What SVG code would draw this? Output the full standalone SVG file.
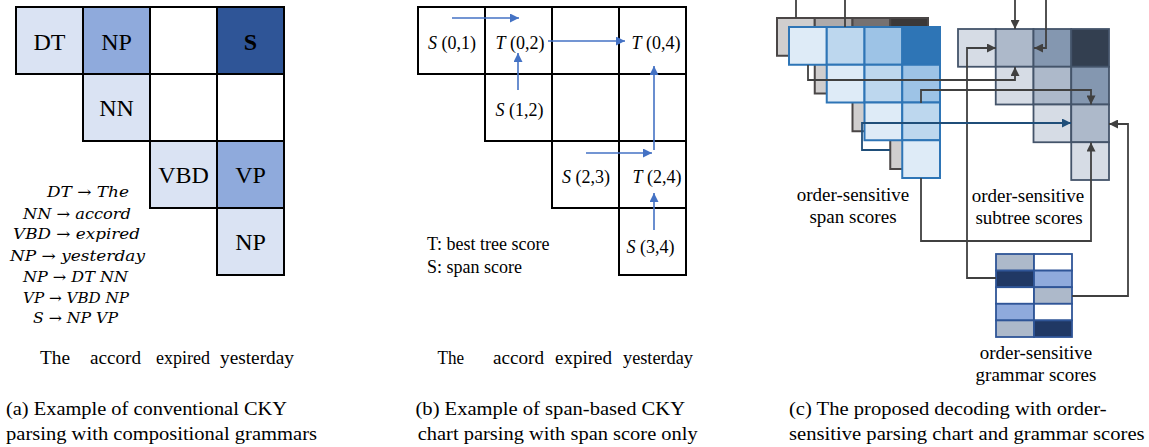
<svg xmlns="http://www.w3.org/2000/svg" width="1149" height="447" viewBox="0 0 1149 447">
<style>
 .cell { stroke:#000; stroke-width:2; }
 .gcell { stroke:#4a4646; stroke-width:2; }
 .bcell { stroke:#2e75b6; stroke-width:2; }
 .scell { stroke:#44546a; stroke-width:1.8; }
 .rcell { stroke:#2f5597; stroke-width:1.8; }
 .bl { fill:none; stroke:#4472c4; stroke-width:1.6; marker-end:url(#ab); }
 .gl { fill:none; stroke:#404040; stroke-width:1.8; }
 .ga { marker-end:url(#ag); }
 .dl { fill:none; stroke:#1f4e79; stroke-width:1.8; marker-end:url(#ad); }
</style>
<defs>
 <marker id="ab" viewBox="0 0 10 10" refX="10" refY="5" markerUnits="userSpaceOnUse" markerWidth="10" markerHeight="9" orient="auto"><path d="M0,0 L10,5 L0,10 z" fill="#4472c4"/></marker>
 <marker id="ag" viewBox="0 0 10 10" refX="10" refY="5" markerUnits="userSpaceOnUse" markerWidth="10" markerHeight="9" orient="auto"><path d="M0,0 L10,5 L0,10 z" fill="#404040"/></marker>
 <marker id="ad" viewBox="0 0 10 10" refX="10" refY="5" markerUnits="userSpaceOnUse" markerWidth="10" markerHeight="9" orient="auto"><path d="M0,0 L10,5 L0,10 z" fill="#1f4e79"/></marker>
</defs>
<rect width="1149" height="447" fill="#fff"/>

<!-- Panel (a) -->
<g id="a-dt"><rect class="cell" x="16" y="7" width="67" height="67" fill="#dae3f3"/><text font-family="'Liberation Serif', serif" font-size="24" text-anchor="middle" x="49.5" y="50">DT</text></g>
<g id="a-np1"><rect class="cell" x="83" y="7" width="67" height="67" fill="#8faadc"/><text font-family="'Liberation Serif', serif" font-size="24" text-anchor="middle" x="116.5" y="50">NP</text></g>
<g id="a-02"><rect class="cell" x="150" y="7" width="67" height="67" fill="#fff"/></g>
<g id="a-s"><rect class="cell" x="217" y="7" width="67" height="67" fill="#2f5597"/><text font-family="'Liberation Serif', serif" font-size="24" text-anchor="middle" x="250.5" y="50" font-weight="bold">S</text></g>
<g id="a-nn"><rect class="cell" x="83" y="74" width="67" height="67" fill="#dae3f3"/><text font-family="'Liberation Serif', serif" font-size="24" text-anchor="middle" x="116.5" y="116">NN</text></g>
<g id="a-12"><rect class="cell" x="150" y="74" width="67" height="67" fill="#fff"/></g>
<g id="a-13"><rect class="cell" x="217" y="74" width="67" height="67" fill="#fff"/></g>
<g id="a-vbd"><rect class="cell" x="150" y="141" width="67" height="67" fill="#dae3f3"/><text font-family="'Liberation Serif', serif" font-size="24" text-anchor="middle" x="183.5" y="183">VBD</text></g>
<g id="a-vp"><rect class="cell" x="217" y="141" width="67" height="67" fill="#8faadc"/><text font-family="'Liberation Serif', serif" font-size="24" text-anchor="middle" x="250.5" y="183">VP</text></g>
<g id="a-np2"><rect class="cell" x="217" y="208" width="67" height="67" fill="#dae3f3"/><text font-family="'Liberation Serif', serif" font-size="24" text-anchor="middle" x="250.5" y="250">NP</text></g>

<g id="a-rules" font-family="'DejaVu Serif', serif" font-style="italic" font-size="15">
 <text x="47" y="197" textLength="82" lengthAdjust="spacingAndGlyphs">DT → The</text>
 <text x="23" y="219" textLength="108" lengthAdjust="spacingAndGlyphs">NN → accord</text>
 <text x="13" y="239" textLength="127" lengthAdjust="spacingAndGlyphs">VBD → expired</text>
 <text x="10" y="261" textLength="135" lengthAdjust="spacingAndGlyphs">NP → yesterday</text>
 <text x="23" y="282" textLength="105" lengthAdjust="spacingAndGlyphs">NP → DT NN</text>
 <text x="23" y="303" textLength="106" lengthAdjust="spacingAndGlyphs">VP → VBD NP</text>
 <text x="33" y="323" textLength="85" lengthAdjust="spacingAndGlyphs">S → NP VP</text>
</g>
<g id="a-words" font-family="'Liberation Serif', serif" font-size="18">
 <text x="40" y="364" textLength="30" lengthAdjust="spacingAndGlyphs">The</text>
 <text x="90" y="364" textLength="51" lengthAdjust="spacingAndGlyphs">accord</text>
 <text x="156" y="364" textLength="54" lengthAdjust="spacingAndGlyphs">expired</text>
 <text x="220" y="364" textLength="74" lengthAdjust="spacingAndGlyphs">yesterday</text>
</g>
<g id="a-caption" font-family="'Liberation Serif', serif" font-size="19">
 <text x="6" y="415" textLength="281" lengthAdjust="spacingAndGlyphs">(a) Example of conventional CKY</text>
 <text x="6" y="440" textLength="311" lengthAdjust="spacingAndGlyphs">parsing with compositional grammars</text>
</g>

<!-- Panel (b) -->
<g id="b-01"><rect class="cell" x="418" y="7" width="67" height="67" fill="#fff"/><text font-family="'Liberation Serif', serif" font-size="18" text-anchor="middle" x="452" y="49"><tspan font-style="italic">S</tspan> (0,1)</text></g>
<g id="b-02"><rect class="cell" x="485" y="7" width="67" height="67" fill="#fff"/><text font-family="'Liberation Serif', serif" font-size="18" text-anchor="middle" x="520" y="49"><tspan font-style="italic">T</tspan> (0,2)</text></g>
<g id="b-03"><rect class="cell" x="552" y="7" width="67" height="67" fill="#fff"/></g>
<g id="b-04"><rect class="cell" x="619" y="7" width="67" height="67" fill="#fff"/><text font-family="'Liberation Serif', serif" font-size="18" text-anchor="middle" x="656" y="49"><tspan font-style="italic">T</tspan> (0,4)</text></g>
<g id="b-12"><rect class="cell" x="485" y="74" width="67" height="67" fill="#fff"/><text font-family="'Liberation Serif', serif" font-size="18" text-anchor="middle" x="519.5" y="116"><tspan font-style="italic">S</tspan> (1,2)</text></g>
<g id="b-13"><rect class="cell" x="552" y="74" width="67" height="67" fill="#fff"/></g>
<g id="b-14"><rect class="cell" x="619" y="74" width="67" height="67" fill="#fff"/></g>
<g id="b-23"><rect class="cell" x="552" y="141" width="67" height="67" fill="#fff"/><text font-family="'Liberation Serif', serif" font-size="18" text-anchor="middle" x="586" y="183"><tspan font-style="italic">S</tspan> (2,3)</text></g>
<g id="b-24"><rect class="cell" x="619" y="141" width="67" height="67" fill="#fff"/><text font-family="'Liberation Serif', serif" font-size="18" text-anchor="middle" x="657" y="183"><tspan font-style="italic">T</tspan> (2,4)</text></g>
<g id="b-34"><rect class="cell" x="619" y="208" width="67" height="67" fill="#fff"/><text font-family="'Liberation Serif', serif" font-size="18" text-anchor="middle" x="650.5" y="253"><tspan font-style="italic">S</tspan> (3,4)</text></g>
<g id="b-legend" font-family="'Liberation Serif', serif" font-size="18">
 <text x="427" y="250">T: best tree score</text>
 <text x="427" y="273">S: span score</text>
</g>
<g id="b-words" font-family="'Liberation Serif', serif" font-size="18">
 <text x="437.5" y="364" textLength="26.5" lengthAdjust="spacingAndGlyphs">The</text>
 <text x="493" y="364" textLength="51" lengthAdjust="spacingAndGlyphs">accord</text>
 <text x="555" y="364" textLength="57" lengthAdjust="spacingAndGlyphs">expired</text>
 <text x="623" y="364" textLength="70" lengthAdjust="spacingAndGlyphs">yesterday</text>
</g>
<g id="b-caption" font-family="'Liberation Serif', serif" font-size="19">
 <text x="415.5" y="415" textLength="269.5" lengthAdjust="spacingAndGlyphs">(b) Example of span-based CKY</text>
 <text x="417.7" y="440" textLength="280" lengthAdjust="spacingAndGlyphs">chart parsing with span score only</text>
</g>

<!-- Panel (c) -->
<g id="c-gray-chart">
 <rect class="gcell" x="777" y="18" width="37.75" height="37.75" fill="#d0cece"/>
 <rect class="gcell" x="814.75" y="18" width="37.75" height="37.75" fill="#aeaaaa"/>
 <rect class="gcell" x="852.5" y="18" width="37.75" height="37.75" fill="#767171"/>
 <rect class="gcell" x="890.25" y="18" width="37.75" height="37.75" fill="#3b3838"/>
 <rect class="gcell" x="814.75" y="55.75" width="37.75" height="37.75" fill="#d0cece"/>
 <rect class="gcell" x="852.5" y="55.75" width="37.75" height="37.75" fill="#aeaaaa"/>
 <rect class="gcell" x="890.25" y="55.75" width="37.75" height="37.75" fill="#767171"/>
 <rect class="gcell" x="852.5" y="93.5" width="37.75" height="37.75" fill="#d0cece"/>
 <rect class="gcell" x="890.25" y="93.5" width="37.75" height="37.75" fill="#aeaaaa"/>
 <rect class="gcell" x="890.25" y="131.25" width="37.75" height="37.75" fill="#d0cece"/>
</g>
<g id="c-span-chart" font-family="'Liberation Serif', serif" font-size="19" text-anchor="middle">
 <rect class="bcell" x="789" y="27" width="37.75" height="37.75" fill="#deebf7"/>
 <rect class="bcell" x="826.75" y="27" width="37.75" height="37.75" fill="#bdd7ee"/>
 <rect class="bcell" x="864.5" y="27" width="37.75" height="37.75" fill="#9dc3e6"/>
 <rect class="bcell" x="902.25" y="27" width="37.75" height="37.75" fill="#2e75b6"/>
 <rect class="bcell" x="826.75" y="64.75" width="37.75" height="37.75" fill="#deebf7"/>
 <rect class="bcell" x="864.5" y="64.75" width="37.75" height="37.75" fill="#bdd7ee"/>
 <rect class="bcell" x="902.25" y="64.75" width="37.75" height="37.75" fill="#9dc3e6"/>
 <rect class="bcell" x="864.5" y="102.5" width="37.75" height="37.75" fill="#deebf7"/>
 <rect class="bcell" x="902.25" y="102.5" width="37.75" height="37.75" fill="#bdd7ee"/>
 <rect class="bcell" x="902.25" y="140.25" width="37.75" height="37.75" fill="#deebf7"/>
 <text x="853" y="201">order-sensitive</text>
 <text x="853" y="223">span scores</text>
</g>
<g id="c-subtree-chart" font-family="'Liberation Serif', serif" font-size="19" text-anchor="middle">
 <rect class="scell" x="958" y="29" width="37.75" height="37.75" fill="#d6dce5"/>
 <rect class="scell" x="995.75" y="29" width="37.75" height="37.75" fill="#adb9ca"/>
 <rect class="scell" x="1033.5" y="29" width="37.75" height="37.75" fill="#8497b0"/>
 <rect class="scell" x="1071.25" y="29" width="37.75" height="37.75" fill="#333f50"/>
 <rect class="scell" x="995.75" y="66.75" width="37.75" height="37.75" fill="#d6dce5"/>
 <rect class="scell" x="1033.5" y="66.75" width="37.75" height="37.75" fill="#adb9ca"/>
 <rect class="scell" x="1071.25" y="66.75" width="37.75" height="37.75" fill="#8497b0"/>
 <rect class="scell" x="1033.5" y="104.5" width="37.75" height="37.75" fill="#d6dce5"/>
 <rect class="scell" x="1071.25" y="104.5" width="37.75" height="37.75" fill="#adb9ca"/>
 <rect class="scell" x="1071.25" y="142.25" width="37.75" height="37.75" fill="#d6dce5"/>
 <text x="1028" y="202">order-sensitive</text>
 <text x="1029" y="224">subtree scores</text>
</g>
<g id="c-grammar-chart" font-family="'Liberation Serif', serif" font-size="19" text-anchor="middle">
 <rect class="rcell" x="996" y="254" width="38" height="16.6" fill="#adb9ca"/>
 <rect class="rcell" x="1034" y="254" width="38" height="16.6" fill="#fff"/>
 <rect class="rcell" x="996" y="270.6" width="38" height="16.6" fill="#203864"/>
 <rect class="rcell" x="1034" y="270.6" width="38" height="16.6" fill="#8faadc"/>
 <rect class="rcell" x="996" y="287.2" width="38" height="16.6" fill="#fff"/>
 <rect class="rcell" x="1034" y="287.2" width="38" height="16.6" fill="#adb9ca"/>
 <rect class="rcell" x="996" y="303.8" width="38" height="16.6" fill="#8faadc"/>
 <rect class="rcell" x="1034" y="303.8" width="38" height="16.6" fill="#fff"/>
 <rect class="rcell" x="996" y="320.4" width="38" height="16.6" fill="#adb9ca"/>
 <rect class="rcell" x="1034" y="320.4" width="38" height="16.6" fill="#203864"/>
 <text x="1036" y="359">order-sensitive</text>
 <text x="1036" y="381">grammar scores</text>
</g>
<g id="c-caption" font-family="'Liberation Serif', serif" font-size="19">
 <text x="789" y="415" textLength="317.5" lengthAdjust="spacingAndGlyphs">(c) The proposed decoding with order-</text>
 <text x="789" y="440" textLength="355.6" lengthAdjust="spacingAndGlyphs">sensitive parsing chart and grammar scores</text>
</g>

<!-- Connectors -->
<g id="connectors">
 <path class="bl" d="M452,18 H519"/>
 <path class="bl" d="M518,90 V53"/>
 <path class="bl" d="M548,41 H625"/>
 <path class="bl" d="M586,153 H652"/>
 <path class="bl" d="M654,150 V66"/>
 <path class="bl" d="M654,230 V193"/>

 <path class="gl" d="M796,0 V18"/>
 <path class="gl" d="M845,0 V27"/>
 <path class="gl ga" d="M1015,0 V29"/>
 <path class="gl ga" d="M1046,0 V48 H1034"/>
 <path class="gl ga" d="M996,278 H967 V48 H996"/>
 <path class="gl ga" d="M808,65 V80 H1015 V67"/>
 <path class="gl ga" d="M921,103 V90 H1091 V104.5"/>
 <path class="dl" d="M890,150 H862 V123 H1071"/>
 <path class="gl ga" d="M1072,296 H1128 V124 H1109"/>
 <path class="gl ga" d="M921,178 V241 H1091 V142.5"/>
</g>
</svg>
